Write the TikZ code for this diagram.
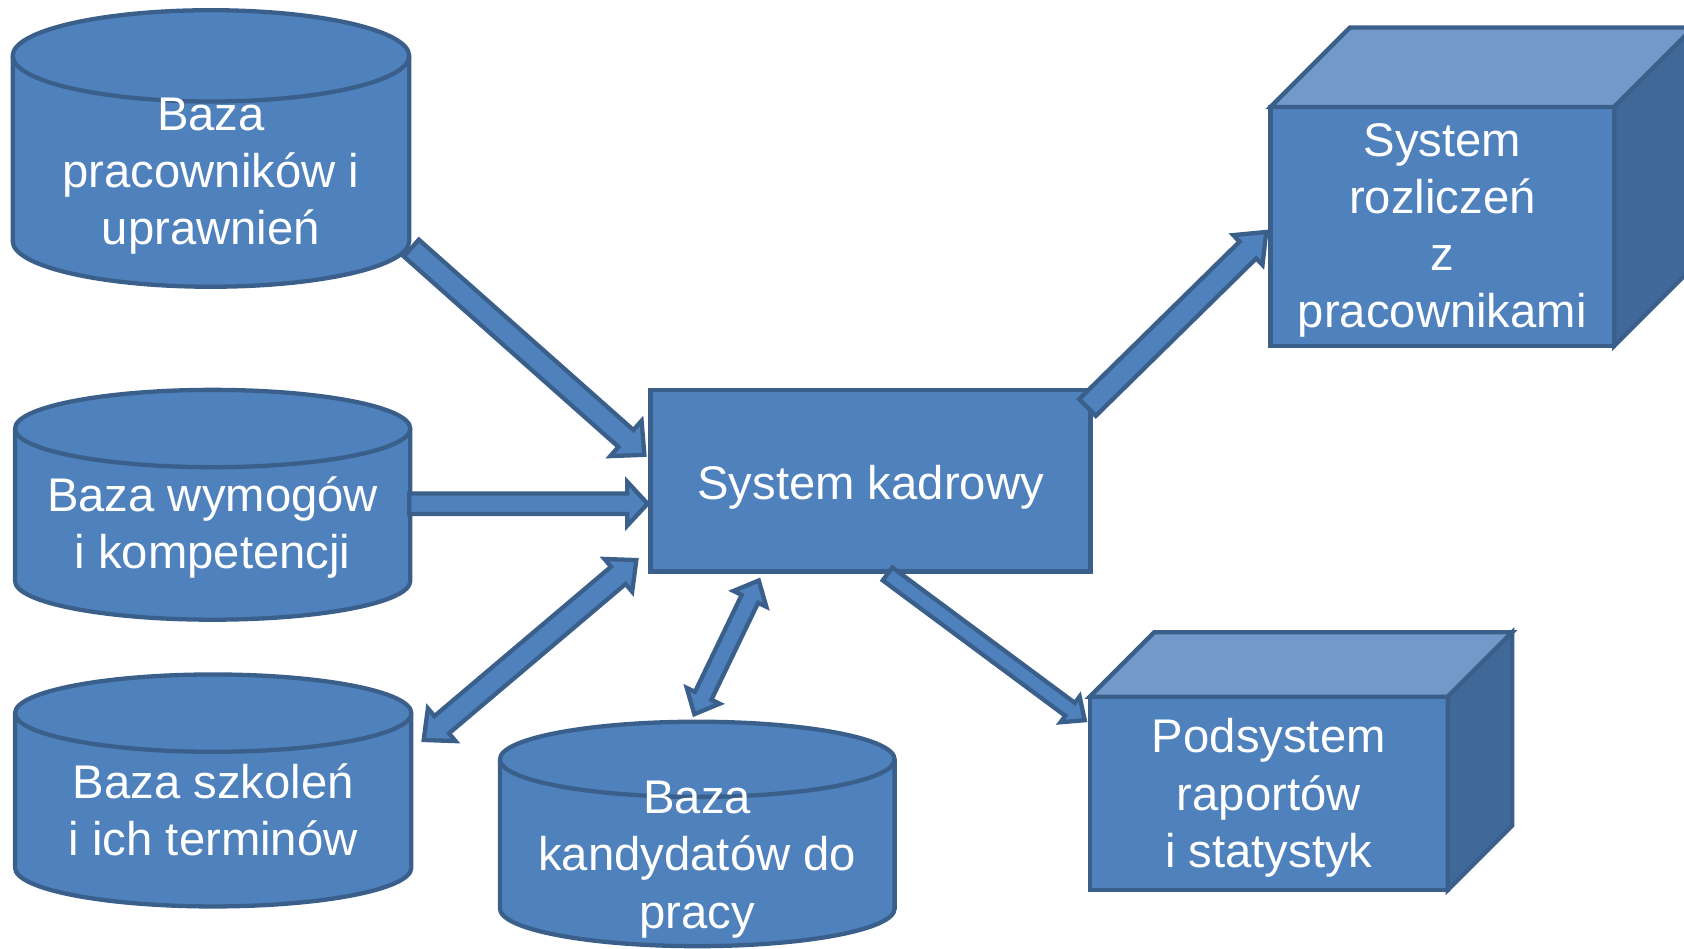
\documentclass[tikz,border=0pt]{standalone}
\usepackage{fontspec}
\setmainfont{Liberation Sans}
\usetikzlibrary{calc}
\definecolor{bfill}{HTML}{4F81BD}
\definecolor{bline}{HTML}{3A5F8B}
\definecolor{btop}{HTML}{7399CA}
\definecolor{bside}{HTML}{40699A}
\tikzset{
  shapest/.style={fill=bfill, draw=bline, line width=4pt, line join=miter},
  topst/.style={fill=btop, draw=bline, line width=4pt},
  sidest/.style={fill=bside, draw=bline, line width=4pt},
  boxst/.style={shapest, rectangle, inner sep=0pt, outer sep=0pt},
  lbl/.style={text=white, align=center, inner sep=0pt, font=\fontsize{44}{53.3}\selectfont},
}
% cylinder: left x, right x, top centre y, bottom centre y, y radius (y given positive downward)
\newcommand\drawcyl[5]{%
  \pgfmathsetmacro\cylrx{(#2-#1)/2}%
  \filldraw[shapest] (#1,-#3) -- (#1,-#4) arc[start angle=180,end angle=360,x radius=\cylrx,y radius=#5]
     -- (#2,-#3) arc[start angle=0,end angle=180,x radius=\cylrx,y radius=#5] -- cycle;
  \draw[shapest, fill=none] (#1,-#3) arc[start angle=180,end angle=360,x radius=\cylrx,y radius=#5];
}
% block arrow: start, end, half shaft, half head, head length
\newcommand\onearrow[5]{%
  \coordinate (tmpH) at ($(#2)!#5pt!(#1)$);
  \filldraw[shapest] ($(#1)!#3pt!90:(#2)$) -- ($(tmpH)!#3pt!90:(#2)$) -- ($(tmpH)!#4pt!90:(#2)$)
    -- (#2) -- ($(tmpH)!#4pt!-90:(#2)$) -- ($(tmpH)!#3pt!-90:(#2)$) -- ($(#1)!#3pt!-90:(#2)$) -- cycle;
}
\newcommand\twoarrow[5]{%
  \coordinate (tmpA) at ($(#1)!#5pt!(#2)$);
  \coordinate (tmpB) at ($(#2)!#5pt!(#1)$);
  \filldraw[shapest] (#1) -- ($(tmpA)!#4pt!90:(#2)$) -- ($(tmpA)!#3pt!90:(#2)$) -- ($(tmpB)!#3pt!90:(#2)$)
    -- ($(tmpB)!#4pt!90:(#2)$) -- (#2) -- ($(tmpB)!#4pt!-90:(#2)$) -- ($(tmpB)!#3pt!-90:(#2)$)
    -- ($(tmpA)!#3pt!-90:(#2)$) -- ($(tmpA)!#4pt!-90:(#2)$) -- cycle;
}
\begin{document}
\begin{tikzpicture}[x=1pt,y=1pt]
\useasboundingbox (0,0) rectangle (1568,-883);

% central system
\node[boxst, minimum width=409.7pt, minimum height=169.3pt] (kadr) at (810.6,-447.6) {};
\node[lbl] (kadrtxt) at (810.6,-453.8) {System kadrowy};

% databases
\drawcyl{11.8}{381}{52}{224.5}{42.5}
\node[lbl] (cyl1) at (196.4,-164) {Baza\\pracowników i\\uprawnień};
\drawcyl{14}{382}{399}{541}{36}
\node[lbl] (cyl2) at (198,-491.4) {Baza wymogów\\i kompetencji};
\drawcyl{14}{383}{664}{808}{36}
\node[lbl] (cyl3) at (198.5,-753.8) {Baza szkoleń\\i ich terminów};
\drawcyl{465.5}{833}{707}{846}{35}
\node[lbl] (cyl4) at (649.2,-800.3) {Baza\\kandydatów do\\pracy};

% arrow end points
\coordinate (a1s) at (383,-231);    \coordinate (a1e) at (600,-423.5);
\coordinate (a2s) at (381,-469);    \coordinate (a2e) at (603,-469);
\coordinate (a3s) at (592.5,-521.5);\coordinate (a3e) at (394.5,-689);
\coordinate (a4s) at (706.5,-540.5);\coordinate (a4e) at (646.5,-665);
\coordinate (a5s) at (1012.6,-379.4);\coordinate (a5e) at (1179,-216);
\coordinate (a6s) at (826.4,-534.4);\coordinate (a6e) at (1010,-670.6);

\onearrow{a1s}{a1e}{10.5}{22}{23}
\onearrow{a2s}{a2e}{9.5}{20.5}{19}
\twoarrow{a3s}{a3e}{10.5}{20}{22}
\twoarrow{a4s}{a4e}{8.5}{17}{19}
\onearrow{a5s}{a5e}{11}{19.5}{24}
\onearrow{a6s}{a6e}{7.5}{15}{17}

% cube 1
\node[boxst, minimum width=320pt, minimum height=222.4pt] (sys2) at (1343,-210.8) {};
\draw[topst] (sys2.north west) -- ++(74,74) -- ++(320,0) -- (sys2.north east) -- cycle;
\draw[sidest] (sys2.north east) -- ++(74,74) -- ++(0,-222.4) -- (sys2.south east) -- cycle;
\node[lbl] (sys2txt) at (1343,-214.6) {System\\rozliczeń\\z\\pracownikami};

% cube 2
\node[boxst, minimum width=333.3pt, minimum height=180pt] (sys3) at (1181.4,-738.7) {};
\draw[topst] (sys3.north west) -- ++(60,60) -- ++(333.3,0) -- (sys3.north east) -- cycle;
\draw[sidest] (sys3.north east) -- ++(60,60) -- ++(0,-180) -- (sys3.south east) -- cycle;
\node[lbl] (sys3txt) at (1181.4,-743) {Podsystem\\raportów\\i statystyk};
\end{tikzpicture}
\end{document}
